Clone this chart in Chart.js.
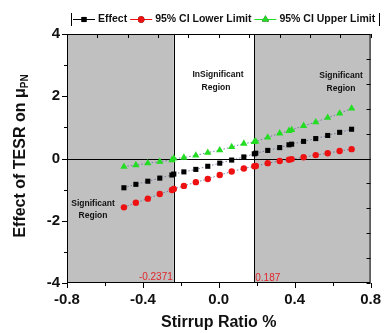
<!DOCTYPE html>
<html>
<head>
<meta charset="utf-8">
<script src="https://cdn.jsdelivr.net/npm/chart.js@4"></script>
<style>
  html, body { margin: 0; padding: 0; background: #fff; }
  #wrap { width: 389px; height: 333px; }
</style>
</head>
<body>
<div id="wrap"><canvas id="chart" width="389" height="333"></canvas></div>
<script>
// Stirrup ratio (x) and effect of TESR with its 95% CI
const stirrupRatio = [-0.5, -0.437, -0.374, -0.311, -0.247, -0.2371, -0.184, -0.121, -0.058, 0.005, 0.068, 0.132,
    0.187, 0.195, 0.258, 0.321, 0.37, 0.384, 0.447, 0.511, 0.574, 0.637, 0.7];
const effect = [-0.94, -0.83, -0.73, -0.63, -0.53, -0.50, -0.43, -0.35, -0.25, -0.15, -0.05, 0.05,
    0.15, 0.17, 0.26, 0.35, 0.44, 0.46, 0.55, 0.64, 0.74, 0.84, 0.94];
const lowerLimit = [-1.57, -1.42, -1.29, -1.14, -1.01, -0.98, -0.88, -0.76, -0.66, -0.53, -0.42, -0.32,
    -0.25, -0.24, -0.15, -0.08, -0.04, -0.02, 0.04, 0.11, 0.17, 0.24, 0.30];
const upperLimit = [-0.26, -0.21, -0.15, -0.10, -0.05, 0.00, 0.03, 0.10, 0.19, 0.27, 0.37, 0.48,
    0.53, 0.55, 0.68, 0.81, 0.89, 0.92, 1.05, 1.17, 1.31, 1.45, 1.61];

// Johnson-Neyman boundaries
const jnLow = -0.2371;
const jnHigh = 0.187;

// axis ticks
const xTicks = [-0.8, -0.4, 0, 0.4, 0.8];
const xMinorTicks = [-0.6, -0.2, 0.2, 0.6];
const yTicks = [-4, -2, 0, 2, 4];
const yMinorTicks = [-3, -1, 1, 3];
const topTicks = [-0.8, -0.64, -0.48, -0.32, -0.16, 0, 0.16, 0.32, 0.48, 0.64, 0.8];
const rightTicks = [-4, -3.2, -2.4, -1.6, -0.8, 0, 0.8, 1.6, 2.4, 3.2, 4];

const FONT = '"Liberation Sans", Arial, sans-serif';
const dotted = 'rgba(95,110,150,0.85)';

function toPoints(ys) {
    return stirrupRatio.map((x, i) => ({ x: x, y: ys[i] }));
}

const datasets = [
    { label: 'Effect', data: toPoints(effect), legendColor: '#000',
      pointStyle: 'rect', pointRadius: 3.6, backgroundColor: '#000', borderColor: dotted, pointBorderColor: '#000' },
    { label: '95% CI Lower Limit', data: toPoints(lowerLimit), legendColor: '#ee1111',
      pointStyle: 'circle', pointRadius: 3.2, backgroundColor: '#ee1111', borderColor: dotted, pointBorderColor: '#ee1111' },
    { label: '95% CI Upper Limit', data: toPoints(upperLimit), legendColor: '#22dd22',
      pointStyle: 'triangle', pointRadius: 4.2, backgroundColor: '#22dd22', borderColor: dotted, pointBorderColor: '#22dd22' }
].map(d => Object.assign(d, { showLine: true, borderWidth: 1, borderDash: [1.5, 2], pointBorderWidth: 0, clip: false }));

// shaded regions + reference lines, under the data
const regionsPlugin = {
    id: 'regions',
    beforeDatasetsDraw(chart) {
        const { ctx, chartArea: a, scales: { x, y } } = chart;
        const xl = x.getPixelForValue(jnLow), xh = x.getPixelForValue(jnHigh);
        ctx.save();
        ctx.fillStyle = 'rgb(192,192,192)';
        ctx.fillRect(a.left, a.top, xl - a.left, a.bottom - a.top);
        ctx.fillRect(xh, a.top, a.right - xh, a.bottom - a.top);
        ctx.strokeStyle = '#000';
        ctx.lineWidth = 1;
        ctx.beginPath();
        const y0 = Math.round(y.getPixelForValue(0)) + 0.5;
        ctx.moveTo(a.left, y0); ctx.lineTo(a.right, y0);
        ctx.moveTo(Math.round(xl) + 0.5, a.top); ctx.lineTo(Math.round(xl) + 0.5, a.bottom);
        ctx.moveTo(Math.round(xh) + 0.5, a.top); ctx.lineTo(Math.round(xh) + 0.5, a.bottom);
        ctx.stroke();

        // region labels
        ctx.fillStyle = '#111';
        ctx.font = 'bold 8.5px ' + FONT;
        ctx.textAlign = 'center';
        ctx.textBaseline = 'middle';
        ctx.fillText('Significant', 93, 204);
        ctx.fillText('Region', 93, 216);
        ctx.fillText('InSignificant', 218, 75);
        ctx.fillText('Region', 216, 88);
        ctx.fillText('Significant', 341, 76);
        ctx.fillText('Region', 341, 89);

        // boundary values
        ctx.fillStyle = '#e0262b';
        ctx.font = '10px ' + FONT;
        ctx.textAlign = 'right';
        ctx.fillText(String(jnLow), xl - 1, a.bottom - 6);
        ctx.textAlign = 'left';
        ctx.fillText(String(jnHigh), xh + 1, a.bottom - 5);
        ctx.restore();
    }
};

// frame, tick marks, titles and legend
const decorPlugin = {
    id: 'decor',
    afterDraw(chart) {
        const { ctx, chartArea: a, scales: { x, y } } = chart;
        ctx.save();
        ctx.strokeStyle = '#000';
        ctx.lineWidth = 1;
        ctx.strokeRect(a.left + 0.5, a.top + 0.5, a.right - a.left - 1, a.bottom - a.top - 1);

        ctx.beginPath();
        xTicks.forEach(v => { const p = Math.round(x.getPixelForValue(v)) + 0.5; ctx.moveTo(p, a.bottom); ctx.lineTo(p, a.bottom + 5); });
        xMinorTicks.forEach(v => { const p = Math.round(x.getPixelForValue(v)) + 0.5; ctx.moveTo(p, a.bottom); ctx.lineTo(p, a.bottom + 3); });
        yTicks.forEach(v => { const p = Math.round(y.getPixelForValue(v)) + 0.5; ctx.moveTo(a.left, p); ctx.lineTo(a.left - 5, p); });
        yMinorTicks.forEach(v => { const p = Math.round(y.getPixelForValue(v)) + 0.5; ctx.moveTo(a.left, p); ctx.lineTo(a.left - 3, p); });
        topTicks.forEach(v => { const p = Math.round(x.getPixelForValue(v)) + 0.5; ctx.moveTo(p, a.top); ctx.lineTo(p, a.top + 4); });
        rightTicks.forEach(v => { const p = Math.round(y.getPixelForValue(v)) + 0.5; ctx.moveTo(a.right, p); ctx.lineTo(a.right - 4, p); });
        ctx.stroke();

        // axis titles
        ctx.fillStyle = '#111';
        ctx.textBaseline = 'middle';
        ctx.font = 'bold 16px ' + FONT;
        ctx.textAlign = 'center';
        ctx.fillText('Stirrup Ratio %', (a.left + a.right) / 2, 323);

        ctx.save();
        ctx.translate(21, 156);
        ctx.rotate(-Math.PI / 2);
        const main = 'Effect of TESR on μ';
        ctx.font = 'bold 16px ' + FONT;
        const w1 = ctx.measureText(main).width;
        ctx.font = 'bold 10px ' + FONT;
        const w2 = ctx.measureText('PN').width;
        const start = -(w1 + w2) / 2;
        ctx.textAlign = 'left';
        ctx.font = 'bold 16px ' + FONT;
        ctx.fillText(main, start, 0);
        ctx.font = 'bold 10px ' + FONT;
        ctx.fillText('PN', start + w1, 4);
        ctx.restore();

        // legend box
        ctx.beginPath();
        ctx.moveTo(71.5, 13); ctx.lineTo(71.5, 26);
        ctx.moveTo(379.5, 13); ctx.lineTo(379.5, 26);
        ctx.stroke();
        ctx.font = 'bold 10.5px ' + FONT;
        ctx.textAlign = 'left';
        let lx = 73;
        const ly = 19.5;
        chart.data.datasets.forEach(ds => {
            ctx.strokeStyle = ds.legendColor;
            ctx.beginPath();
            ctx.moveTo(lx, ly); ctx.lineTo(lx + 22, ly);
            ctx.stroke();
            Chart.helpers.drawPoint(ctx, { pointStyle: ds.pointStyle, radius: ds.pointRadius, borderWidth: 0 }, lx + 11, ly);
            ctx.fillStyle = ds.legendColor;
            ctx.fill();
            ctx.fillStyle = '#111';
            ctx.fillText(ds.label, lx + 25, ly);
            lx += 25 + ctx.measureText(ds.label).width + 3;
        });
        ctx.restore();
    }
};

new Chart(document.getElementById('chart').getContext('2d'), {
    type: 'scatter',
    data: { datasets: datasets },
    options: {
        responsive: false,
        animation: false,
        layout: { padding: { top: 34, right: 14, left: 0, bottom: 0 } },
        plugins: { legend: { display: false }, tooltip: { enabled: false } },
        scales: {
            x: {
                min: -0.8, max: 0.8,
                afterFit(scale) { scale.height = 50; },
                afterBuildTicks(scale) { scale.ticks = xTicks.map(v => ({ value: v })); },
                grid: { display: false, drawTicks: false },
                border: { display: false },
                ticks: {
                    padding: 8, maxRotation: 0, autoSkip: false, color: '#111',
                    font: { family: FONT, size: 15, weight: 'bold' },
                    callback: v => Number(v).toFixed(1)
                }
            },
            y: {
                min: -4, max: 4,
                afterFit(scale) { scale.width = 67; },
                afterBuildTicks(scale) { scale.ticks = yTicks.map(v => ({ value: v })); },
                grid: { display: false, drawTicks: false },
                border: { display: false },
                ticks: {
                    padding: 7, autoSkip: false, color: '#111',
                    font: { family: FONT, size: 15, weight: 'bold' },
                    callback: v => String(v)
                }
            }
        }
    },
    plugins: [regionsPlugin, decorPlugin]
});
</script>
</body>
</html>
